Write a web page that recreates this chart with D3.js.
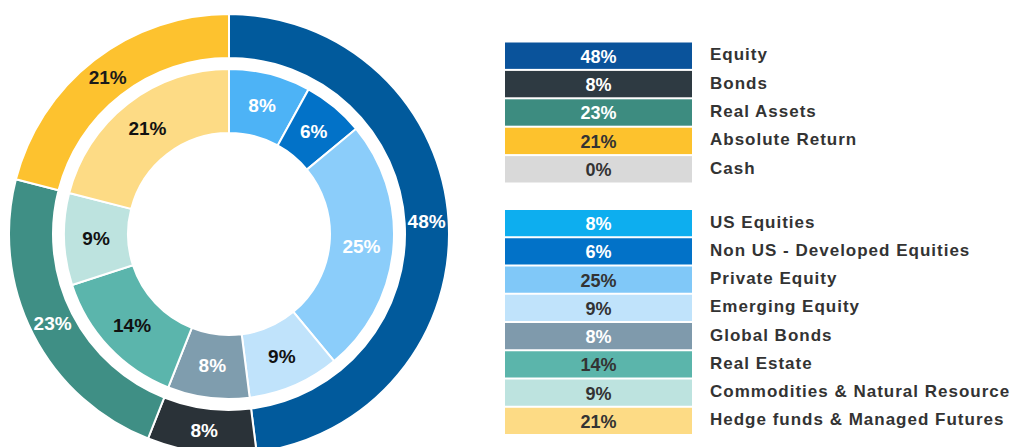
<!DOCTYPE html>
<html>
<head>
<meta charset="utf-8">
<script src="https://cdn.jsdelivr.net/npm/d3@7"></script>
<style>
  html, body { margin: 0; padding: 0; background: #ffffff; }
  svg { display: block; }
</style>
</head>
<body>
<svg id="chart" width="1014" height="447"></svg>
<script>
// ---- data ----
const outerCategories = ["Equity", "Bonds", "Real Assets", "Absolute Return", "Cash"];
const outerValues = [48, 8, 23, 21, 0];
const innerCategories = ["US Equities", "Non US - Developed Equities", "Private Equity", "Emerging Equity",
  "Global Bonds", "Real Estate", "Commodities & Natural Resource", "Hedge funds & Managed Futures"];
const innerValues = [8, 6, 25, 9, 8, 14, 9, 21];

// ---- styles ----
const outerColors = ["#015a9c", "#2a3238", "#3f8f85", "#fdc22f", "#d9d9d9"];
const outerLegendColors = ["#0a539b", "#2e3a42", "#3d8c80", "#fdc22d", "#d9d9d9"];
const outerLabelColors = ["#ffffff", "#ffffff", "#ffffff", "#1a1a1a", "#1a1a1a"];
const outerLegendTextColors = ["#ffffff", "#ffffff", "#ffffff", "#333333", "#333333"];

const innerColors = ["#4db3f6", "#0272c8", "#8bcdfa", "#c0e3fb", "#7f9dae", "#5bb5ac", "#bde3df", "#fddb85"];
const innerLegendColors = ["#0daeef", "#0272c8", "#80c8f8", "#c0e3fb", "#7f9aac", "#5bb5ab", "#bde3df", "#fddb85"];
const innerLabelColors = ["#ffffff", "#ffffff", "#ffffff", "#111111", "#ffffff", "#111111", "#111111", "#111111"];
const innerLegendTextColors = ["#ffffff", "#ffffff", "#333333", "#333333", "#ffffff", "#333333", "#333333", "#333333"];

const svg = d3.select("#chart");
const cx = 229, cy = 234;

const pie = d3.pie().sort(null).value(d => d.value);

const outerData = pie(outerCategories.map((c, i) => ({ cat: c, value: outerValues[i], i })));
const innerData = pie(innerCategories.map((c, i) => ({ cat: c, value: innerValues[i], i })));

const outerArc = d3.arc().innerRadius(176).outerRadius(220);
const outerLabelArc = d3.arc().innerRadius(198).outerRadius(198);
const innerArc = d3.arc().innerRadius(101).outerRadius(165);
const innerLabelArc = d3.arc().innerRadius(133).outerRadius(133);

const g = svg.append("g").attr("transform", `translate(${cx},${cy})`);

const fontFam = "'Liberation Sans', Arial, Helvetica, sans-serif";

// outer ring
g.selectAll("path.outer").data(outerData.filter(d => d.data.value > 0)).join("path")
  .attr("class", "outer")
  .attr("d", outerArc)
  .attr("fill", d => outerColors[d.data.i])
  .attr("stroke", "#ffffff").attr("stroke-width", 2);

g.selectAll("text.outer").data(outerData.filter(d => d.data.value > 0)).join("text")
  .attr("class", "outer")
  .attr("transform", d => `translate(${outerLabelArc.centroid(d)})`)
  .attr("text-anchor", "middle").attr("dominant-baseline", "central")
  .attr("font-family", fontFam).attr("font-weight", "bold").attr("font-size", 19)
  .attr("fill", d => outerLabelColors[d.data.i])
  .text(d => d.data.value + "%");

// inner ring
g.selectAll("path.inner").data(innerData).join("path")
  .attr("class", "inner")
  .attr("d", innerArc)
  .attr("fill", d => innerColors[d.data.i])
  .attr("stroke", "#ffffff").attr("stroke-width", 2);

g.selectAll("text.inner").data(innerData).join("text")
  .attr("class", "inner")
  .attr("transform", d => `translate(${innerLabelArc.centroid(d)})`)
  .attr("text-anchor", "middle").attr("dominant-baseline", "central")
  .attr("font-family", fontFam).attr("font-weight", "bold").attr("font-size", 19)
  .attr("fill", d => innerLabelColors[d.data.i])
  .text(d => d.data.value + "%");

// ---- legends ----
const barX = 505, barW = 187, barH = 26, textX = 710;

function legend(cats, vals, colors, textColors, y0) {
  const y = d3.scaleBand().domain(cats).range([y0, y0 + 28 * cats.length]).paddingInner(2 / 28).paddingOuter(0);
  const lg = svg.append("g");
  const rows = lg.selectAll("g").data(cats).join("g")
    .attr("transform", d => `translate(0,${y(d)})`);
  rows.append("rect")
    .attr("x", barX).attr("y", 0).attr("width", barW).attr("height", y.bandwidth())
    .attr("fill", (d, i) => colors[i]);
  rows.append("text")
    .attr("x", barX + barW / 2).attr("y", y.bandwidth() / 2 + 1)
    .attr("text-anchor", "middle").attr("dominant-baseline", "central")
    .attr("font-family", fontFam).attr("font-weight", "bold").attr("font-size", 18)
    .attr("fill", (d, i) => textColors[i])
    .text((d, i) => vals[i] + "%");
  rows.append("text")
    .attr("x", textX).attr("y", y.bandwidth() / 2 - 1)
    .attr("dominant-baseline", "central")
    .attr("font-family", fontFam).attr("font-weight", "bold").attr("font-size", 17)
    .attr("letter-spacing", 1)
    .attr("fill", "#333333")
    .text(d => d);
}

legend(outerCategories, outerValues, outerLegendColors, outerLegendTextColors, 42.5);
legend(innerCategories, innerValues, innerLegendColors, innerLegendTextColors, 210);
</script>
</body>
</html>
